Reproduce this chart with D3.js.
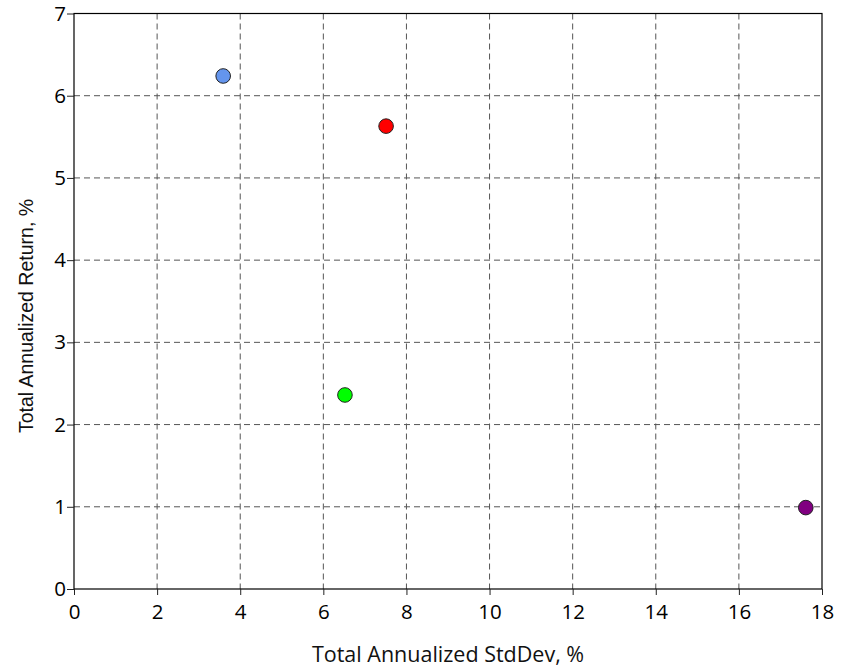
<!DOCTYPE html>
<html><head><meta charset="utf-8">
<script src="https://cdn.jsdelivr.net/npm/d3@7"></script>
<style>body{margin:0;background:#fff}svg{display:block}</style>
</head><body>
<svg id="c" width="853" height="668"></svg>
<script>
const names = ["A", "B", "C", "D"];
const stdDev = [3.59, 7.51, 6.52, 17.61];
const returns = [6.24, 5.63, 2.36, 0.99];
const colors = ["#6495ED", "#FF0000", "#00FF00", "#800080"];
const xTicks = [0, 2, 4, 6, 8, 10, 12, 14, 16, 18];
const yTicks = [0, 1, 2, 3, 4, 5, 6, 7];
const xTitle = "Total Annualized StdDev, %";
const yTitle = "Total Annualized Return, %";

const svg = d3.select("#c");
const L = 74, R = 822, T = 13.5, B = 589;
const x = d3.scaleLinear().domain([0, 18]).range([L, R]);
const y = d3.scaleLinear().domain([0, 7]).range([B, T]);
const font = "'Open Sans', 'Segoe UI', sans-serif";

// grid
const g = svg.append("g");
g.selectAll(".vx").data(xTicks.slice(1, -1)).enter().append("line")
  .attr("x1", d => x(d)).attr("x2", d => x(d)).attr("y1", T).attr("y2", B)
  .attr("stroke", "#555").attr("stroke-width", 1).attr("stroke-dasharray", "6,4");
g.selectAll(".hy").data(yTicks.slice(1, -1)).enter().append("line")
  .attr("y1", d => y(d)).attr("y2", d => y(d)).attr("x1", L).attr("x2", R)
  .attr("stroke", "#555").attr("stroke-width", 1).attr("stroke-dasharray", "6,4");

// frame
svg.append("rect").attr("x", L).attr("y", T).attr("width", R - L).attr("height", B - T)
  .attr("fill", "none").attr("stroke", "#000").attr("stroke-width", 1.2);

// axes
const xa = svg.append("g").attr("transform", `translate(0,${B})`)
  .call(d3.axisBottom(x).tickValues(xTicks).tickFormat(d3.format("d")).tickSize(6).tickPadding(9));
const ya = svg.append("g").attr("transform", `translate(${L},0)`)
  .call(d3.axisLeft(y).tickValues(yTicks).tickFormat(d3.format("d")).tickSize(7).tickPadding(1));
[xa, ya].forEach(a => {
  a.select(".domain").remove();
  a.selectAll("line").attr("stroke", "#222");
  a.selectAll("text").attr("font-family", font).attr("font-size", 20.5).attr("fill", "#000");
});

// points
svg.selectAll("circle.p").data(names).enter().append("circle")
  .attr("class", "p")
  .attr("cx", (d, i) => x(stdDev[i])).attr("cy", (d, i) => y(returns[i]))
  .attr("r", 7.3).attr("fill", (d, i) => colors[i])
  .attr("stroke", "#222").attr("stroke-width", 1);

// titles
svg.append("text").attr("x", (L + R) / 2).attr("y", 662).attr("text-anchor", "middle")
  .attr("font-family", font).attr("font-size", 21.5).attr("fill", "#111").text(xTitle);
svg.append("text").attr("transform", `translate(33,316) rotate(-90)`)
  .attr("text-anchor", "middle")
  .attr("font-family", "'Liberation Sans', Arial, sans-serif").attr("font-size", 19.5)
  .attr("fill", "#111").text(yTitle);
</script>
</body></html>
